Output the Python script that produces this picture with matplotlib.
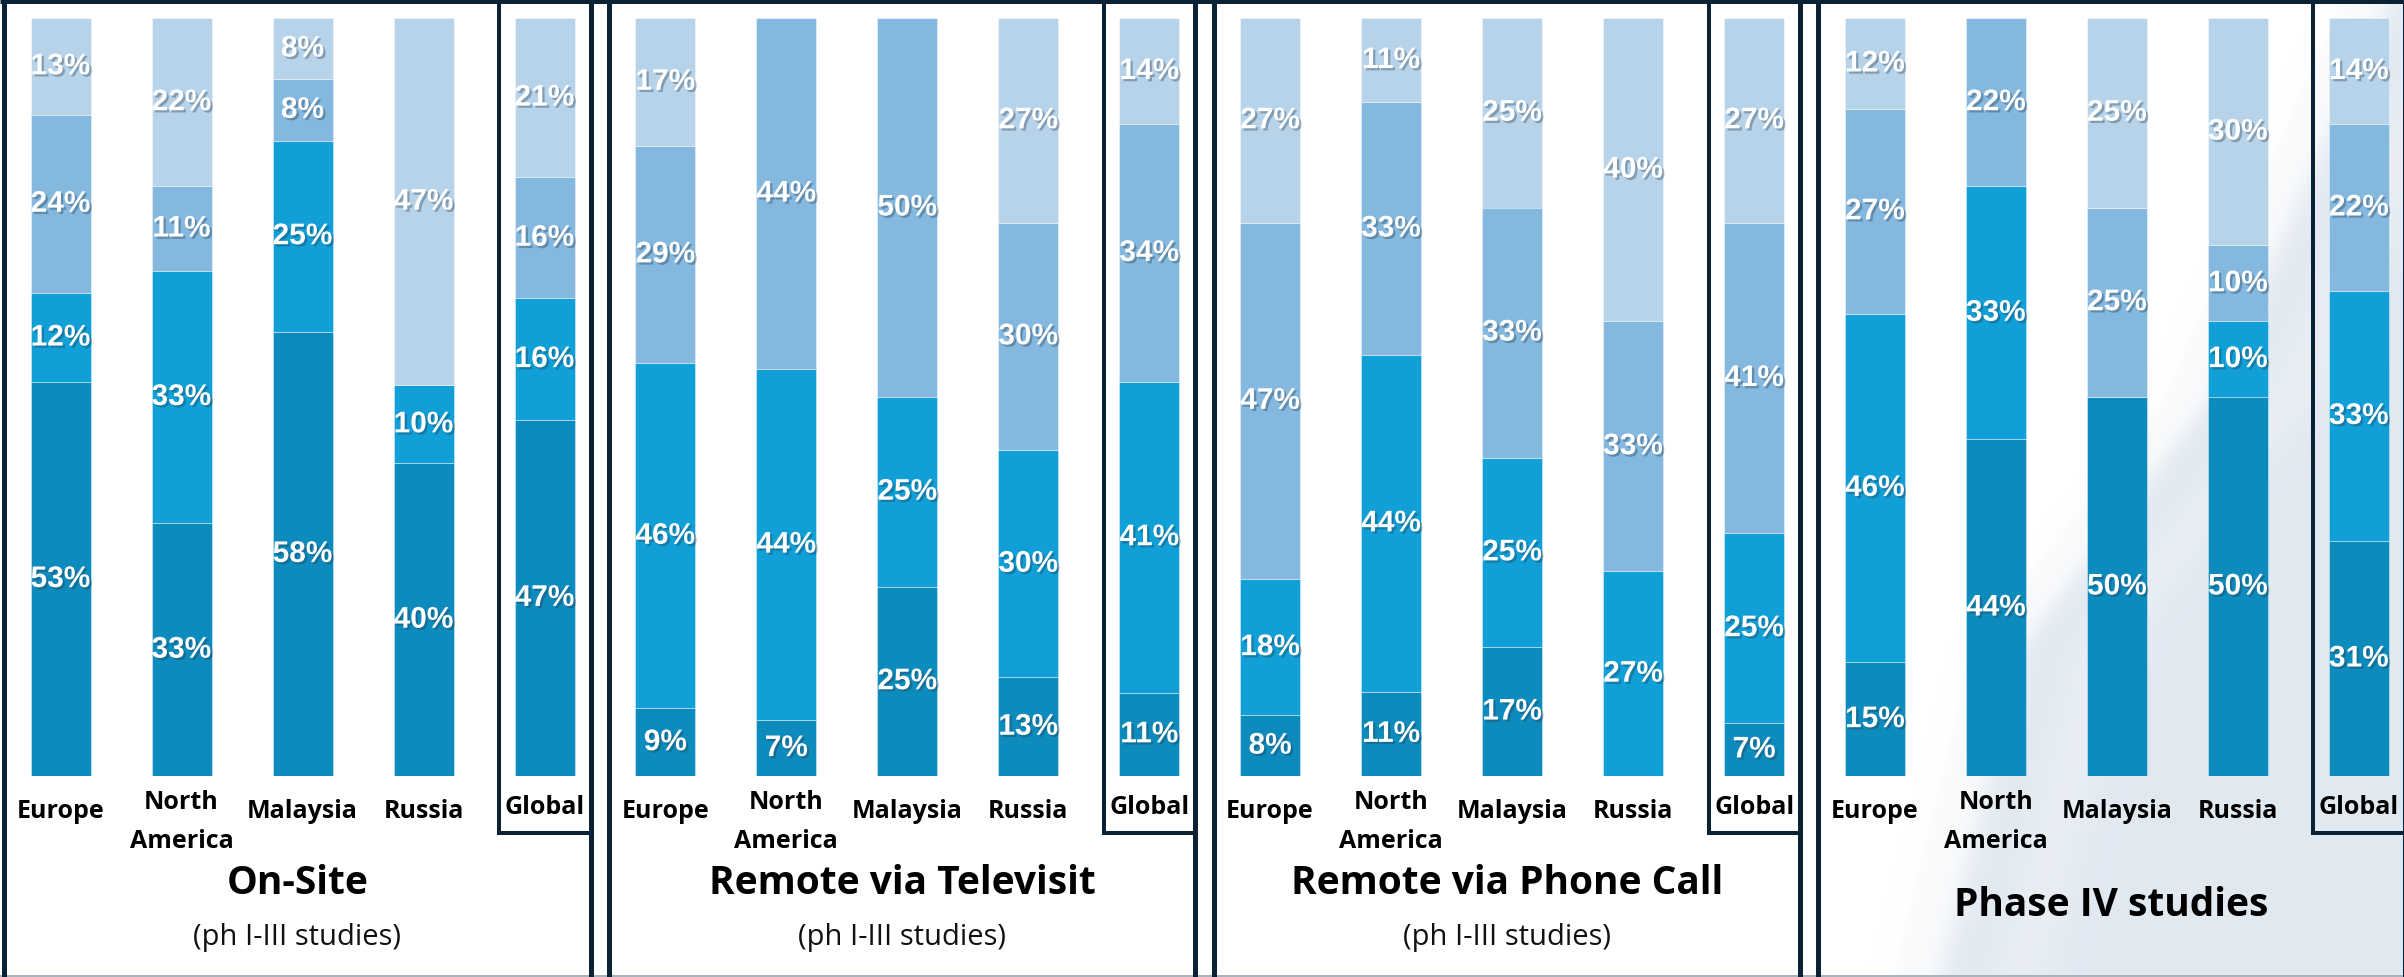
import numpy as np
import matplotlib
matplotlib.use("Agg")
import matplotlib.pyplot as plt
import matplotlib.patheffects as pe
from matplotlib.transforms import blended_transform_factory

W, H, DPI = 2404, 978, 100

# ---- data -----------------------------------------------------------------
regions = ["Europe", "North\nAmerica", "Malaysia", "Russia", "Global"]
panel_titles = ["On-Site", "Remote via Televisit", "Remote via Phone Call",
                "Phase IV studies"]
panel_subtitles = ["(ph I-III studies)", "(ph I-III studies)",
                   "(ph I-III studies)", ""]

# shares per region, stacked from the bottom (darkest) to the top (lightest)
onsite_dark = [53, 33, 58, 40, 47]
onsite_bright = [12, 33, 25, 10, 16]
onsite_mid = [24, 11, 8, 0, 16]
onsite_light = [13, 22, 8, 47, 21]

tele_dark = [9, 7, 25, 13, 11]
tele_bright = [46, 44, 25, 30, 41]
tele_mid = [29, 44, 50, 30, 34]
tele_light = [17, 0, 0, 27, 14]

phone_dark = [8, 11, 17, 0, 7]
phone_bright = [18, 44, 25, 27, 25]
phone_mid = [47, 33, 33, 33, 41]
phone_light = [27, 11, 25, 40, 27]

ph4_dark = [15, 44, 50, 50, 31]
ph4_bright = [46, 33, 0, 10, 33]
ph4_mid = [27, 22, 25, 10, 22]
ph4_light = [12, 0, 25, 30, 14]

panels = [
    [onsite_dark, onsite_bright, onsite_mid, onsite_light],
    [tele_dark, tele_bright, tele_mid, tele_light],
    [phone_dark, phone_bright, phone_mid, phone_light],
    [ph4_dark, ph4_bright, ph4_mid, ph4_light],
]
shades = ["#0e8bbd", "#109fd6", "#84b8df", "#b7d3ea"]

# ---- layout (pixels) ------------------------------------------------------
first_bar = 60.5
panel_pitch = 604.8
bar_pitch = 121.0
bar_w = 60.0
bar_top, bar_bottom = 19.0, 777.0
frame_col = "#0b2234"
px = 72.0 / DPI

fig = plt.figure(figsize=(W / DPI, H / DPI), dpi=DPI, facecolor="white")

# background layer in pixel coordinates (y downwards)
bg = fig.add_axes([0, 0, 1, 1], zorder=0)
bg.set_xlim(0, W)
bg.set_ylim(H, 0)
bg.axis("off")

# soft swoosh backdrop behind the last panel
xs = np.arange(1818, W) + 0.5
ys = np.arange(0, H) + 0.5
X, Y = np.meshgrid(xs, ys)
curve_y = [0, 400, 650, 978]
curve_x = [2320, 2140, 1950, 1870]
edge = np.interp(Y, curve_y, curve_x)
d = X - edge
t = np.clip(d / 110.0, 0, 1)
t = t * t * (3 - 2 * t)
streak = (0.9 * np.exp(-((d - 14) / 7.0) ** 2)
          + 0.5 * np.exp(-((d - 55) / 16.0) ** 2)
          + 0.25 * np.exp(-((d - 150) / 40.0) ** 2))
g = t * (1 - np.clip(streak, 0, 1))
tint = np.array([0.882, 0.910, 0.944])
img = 1 + (tint - 1) * g[..., None]
bg.imshow(img, extent=[1818, W, H, 0], interpolation="bilinear",
          aspect="auto", zorder=0)
bg.set_xlim(0, W)
bg.set_ylim(H, 0)

# top band and bottom rule
bg.plot([0, W], [2, 2], color=frame_col, lw=5 * px, solid_capstyle="butt")
bg.plot([0, W], [976.5, 976.5], color="#a8b3be", lw=2 * px)

label_font = "Open Sans"
shadow = [pe.SimplePatchShadow(offset=(1.6, -1.6), shadow_rgbFace="#20384a",
                               alpha=0.35), pe.Normal()]

for k, series in enumerate(panels):
    bar0 = first_bar + k * panel_pitch
    left_line = bar0 - 56.5
    right_line = bar0 + 530
    global_x = bar0 + 4 * bar_pitch

    # panel frame
    for xv in (left_line, right_line):
        bg.plot([xv, xv], [0, H], color=frame_col, lw=5 * px,
                solid_capstyle="butt")
    # box around the Global bar
    gl = global_x - 45.5
    bg.plot([gl, gl], [0, 833.5], color=frame_col, lw=4 * px,
            solid_capstyle="projecting")
    bg.plot([gl, right_line], [833.5, 833.5], color=frame_col, lw=4 * px,
            solid_capstyle="projecting")

    # bars
    ax_left = bar0 - bar_pitch / 2
    ax = fig.add_axes([ax_left / W, (H - bar_bottom) / H,
                       5 * bar_pitch / W, (bar_bottom - bar_top) / H],
                      zorder=2)
    ax.patch.set_alpha(0)
    ax.set_xlim(-0.5, 4.5)
    ax.set_ylim(0, 100)
    ax.axis("off")

    x = np.arange(len(regions))
    totals = np.sum(np.array(series, dtype=float), axis=0)
    bottom = np.zeros(len(regions))
    for vals, col in zip(series, shades):
        vals = np.array(vals, dtype=float)
        h = vals / totals * 100
        ax.bar(x, h, bottom=bottom, width=bar_w / bar_pitch, color=col,
               edgecolor=(1, 1, 1, 0.45), linewidth=0.6)
        for i in range(len(regions)):
            if vals[i] > 0:
                ax.text(x[i], bottom[i] + h[i] / 2, f"{int(vals[i])}%",
                        ha="center", va="center", color="white",
                        fontsize=21.5, fontweight="bold",
                        family="Liberation Sans", path_effects=shadow)
        bottom += h

    # category labels under the bars
    trans = blended_transform_factory(ax.transData, bg.transData)
    for i, name in enumerate(regions):
        if "\n" in name:
            yv = 822
        elif name == "Global":
            yv = 807
        else:
            yv = 812
        ax.text(x[i], yv, name, transform=trans, ha="center", va="center",
                multialignment="center", fontsize=18, fontweight="bold",
                family=label_font, color="black", linespacing=1.7)

    # panel title and subtitle
    cx = (left_line + right_line) / 2
    title_y = 883 if panel_subtitles[k] else 905
    bg.text(cx, title_y, panel_titles[k], ha="center", va="center",
            fontsize=28, fontweight="bold", family=label_font, color="black")
    if panel_subtitles[k]:
        bg.text(cx, 938, panel_subtitles[k], ha="center", va="center",
                fontsize=21, family=label_font, color="#111111")

fig.savefig("out.png", dpi=DPI, facecolor="white")
